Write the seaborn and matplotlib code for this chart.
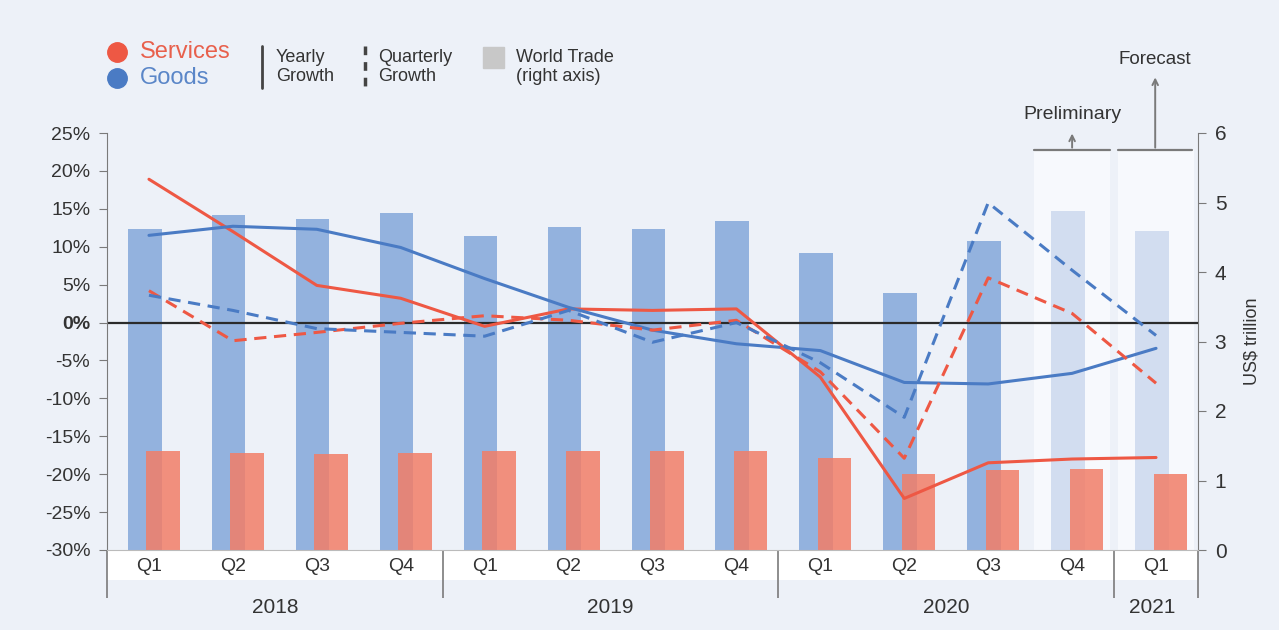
import numpy as np
import seaborn as sns
import matplotlib.pyplot as plt
from matplotlib.lines import Line2D
from matplotlib.patches import Rectangle

# data
quarters = ['Q1', 'Q2', 'Q3', 'Q4'] * 3 + ['Q1']
years = ['2018', '2019', '2020', '2021']
year_centres = [1.5, 5.5, 9.5, 11.95]
goods_trade = [4.62, 4.82, 4.76, 4.85, 4.52, 4.65, 4.62, 4.73, 4.27, 3.70, 4.45, 4.88, 4.59]
services_trade = [1.42, 1.40, 1.38, 1.40, 1.42, 1.42, 1.42, 1.42, 1.32, 1.09, 1.15, 1.17, 1.09]
services_yearly = [18.9, 12.0, 4.9, 3.2, -0.5, 1.8, 1.6, 1.8, -7.2, -23.2, -18.5, -18.0, -17.8]
goods_yearly = [11.5, 12.7, 12.3, 9.9, 5.8, 2.0, -1.0, -2.8, -3.7, -7.9, -8.1, -6.7, -3.4]
services_quarterly = [4.2, -2.4, -1.3, -0.1, 0.9, 0.3, -1.0, 0.3, -6.5, -17.9, 5.9, 1.2, -8.0]
goods_quarterly = [3.6, 1.6, -0.8, -1.3, -1.8, 1.6, -2.6, 0.0, -5.3, -12.5, 15.8, 6.9, -1.7]

BG = '#EDF1F8'
RED = '#EE5844'
BLUE = '#4A7BC4'
BAR_BLUE = '#93B2DE'
BAR_BLUE_LIGHT = '#D2DDF0'
BAR_RED = '#F27E68'
GREY = '#7a7a7a'
TXT = '#333333'

sns.set_style('white')
plt.rcParams['font.family'] = ['Liberation Sans', 'DejaVu Sans']

fig = plt.figure(figsize=(12.79, 6.3), dpi=100, facecolor=BG)
ax = fig.add_axes([107 / 1279, 1 - 550 / 630, (1198 - 107) / 1279, (550 - 133) / 630])
ax2 = ax.twinx()
ax.set_zorder(ax2.get_zorder() + 1)
ax.patch.set_visible(False)

idx = np.arange(len(quarters))

# shaded preliminary / forecast columns
for a, b in [(10.55, 11.45), (11.55, 12.45)]:
    ax2.axvspan(a, b, ymin=0, ymax=0.959, color='#F7F9FD', zorder=0, lw=0)

# world trade bars (right axis)
sns.barplot(x=idx - 0.05, y=goods_trade, native_scale=True, width=0.4, color=BAR_BLUE,
            saturation=1, errorbar=None, ax=ax2, zorder=2, linewidth=0, edgecolor='none')
for p in ax2.patches[-2:]:
    p.set_facecolor(BAR_BLUE_LIGHT)
sns.barplot(x=idx + 0.17, y=services_trade, native_scale=True, width=0.4, color=BAR_RED,
            saturation=1, errorbar=None, ax=ax2, alpha=0.85, zorder=3, linewidth=0,
            edgecolor='none')

# growth lines (left axis)
ax.axhline(0, color='#2b2b2b', lw=1.6, zorder=1)
sns.lineplot(x=idx, y=services_yearly, color=RED, lw=2.2, ax=ax)
sns.lineplot(x=idx, y=goods_yearly, color=BLUE, lw=2.2, ax=ax)
sns.lineplot(x=idx, y=services_quarterly, color=RED, lw=2.2, linestyle=(0, (4, 2.5)), ax=ax)
sns.lineplot(x=idx, y=goods_quarterly, color=BLUE, lw=2.2, linestyle=(0, (4, 2.5)), ax=ax)

# axes
ax.set_xlim(-0.5, 12.5)
ax.set_ylim(-30, 25)
ax2.set_ylim(0, 6)
ax.set_xticks(idx)
ax.set_xticklabels(quarters)
ax.tick_params(axis='x', length=0, pad=6, labelsize=14, labelcolor=TXT)
yt = list(range(-30, 26, 5))
ax.set_yticks(yt)
ax.set_yticklabels([f'{v}%' for v in yt])
for lab in ax.get_yticklabels():
    if lab.get_text() == '0%':
        lab.set_fontweight('bold')
ax.tick_params(axis='y', direction='out', length=6, color=GREY, labelsize=14,
               labelcolor=TXT, pad=6)
ax2.set_yticks(range(0, 7))
ax2.tick_params(axis='y', direction='out', length=6, color=GREY, labelsize=15,
                labelcolor=TXT, pad=6)
ax2.set_ylabel('US$ trillion', fontsize=13, color=TXT, labelpad=12)
ax.set_xlabel('')
ax.set_ylabel('')
ax2.set_xlabel('')

for s in ['top', 'right']:
    ax.spines[s].set_visible(False)
for s in ['top', 'left', 'bottom']:
    ax2.spines[s].set_visible(False)
ax.spines['left'].set_color(GREY)
ax.spines['bottom'].set_color('#bbbbbb')
ax.spines['bottom'].set_linewidth(0.8)
ax2.spines['right'].set_color(GREY)

# white band behind quarter labels
band = Rectangle((0, -0.072), 1, 0.072, transform=ax.transAxes, facecolor='white',
                 edgecolor='none', clip_on=False, zorder=0)
ax.add_patch(band)
ax.vlines([-0.5, 3.5, 7.5, 11.5, 12.5], -0.115, 0, transform=ax.get_xaxis_transform(),
          color=GREY, lw=1.2, clip_on=False)
for yr, xc in zip(years, year_centres):
    ax.text(xc, -0.137, yr, transform=ax.get_xaxis_transform(), ha='center', va='center',
            fontsize=15, color=TXT)

# preliminary / forecast markers
ax.plot([10.55, 11.45], [22.7, 22.7], color=GREY, lw=1.6, clip_on=False)
ax.plot([11.55, 12.43], [22.7, 22.7], color=GREY, lw=1.6, clip_on=False)
ax.annotate('', xy=(11.0, 25.3), xytext=(11.0, 22.7), annotation_clip=False,
            arrowprops=dict(arrowstyle='->', color=GREY, lw=1.4))
ax.annotate('', xy=(11.99, 32.7), xytext=(11.99, 22.7), annotation_clip=False,
            arrowprops=dict(arrowstyle='->', color=GREY, lw=1.4))
ax.text(11.0, 27.4, 'Preliminary', ha='center', va='center', fontsize=14, color=TXT)
ax.text(11.99, 34.7, 'Forecast', ha='center', va='center', fontsize=13.5, color=TXT)

# legend drawn by hand
def fx(px):
    return px / 1279

def fy(py):
    return 1 - py / 630

fig.add_artist(Line2D([fx(117)], [fy(52)], marker='o', ms=14, color=RED, lw=0))
fig.add_artist(Line2D([fx(117)], [fy(78)], marker='o', ms=14, color=BLUE, lw=0))
fig.text(fx(140), fy(52), 'Services', color='#E8604C', fontsize=17, va='center')
fig.text(fx(140), fy(78), 'Goods', color='#5A86C8', fontsize=17, va='center')
fig.add_artist(Line2D([fx(262), fx(262)], [fy(46), fy(88)], color='#444444', lw=2))
fig.text(fx(276), fy(67), 'Yearly\nGrowth', color=TXT, fontsize=13, va='center',
         linespacing=1.15)
fig.add_artist(Line2D([fx(365), fx(365)], [fy(46), fy(88)], color='#444444', lw=2.5,
                      linestyle=(0, (2.5, 2))))
fig.text(fx(378), fy(67), 'Quarterly\nGrowth', color=TXT, fontsize=13, va='center',
         linespacing=1.15)
fig.add_artist(Rectangle((fx(483), fy(68)), fx(21), 21 / 630, color='#C8C8C8',
                         transform=fig.transFigure))
fig.text(fx(516), fy(67), 'World Trade\n(right axis)', color=TXT, fontsize=13,
         va='center', linespacing=1.15)

plt.savefig('out.png', dpi=100, facecolor=BG)
